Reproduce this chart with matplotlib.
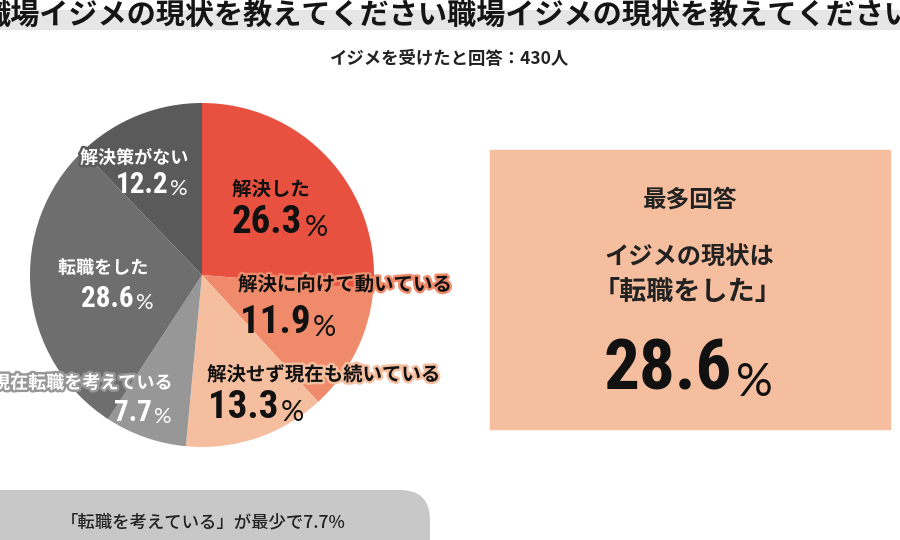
import os
import matplotlib
matplotlib.use("Agg")
import matplotlib.pyplot as plt
import matplotlib.patheffects as pe
from matplotlib import font_manager
from matplotlib.font_manager import FontProperties
from matplotlib.patches import Rectangle, FancyBboxPatch

# --------------------------------------------------------------------
# Data
# --------------------------------------------------------------------
TITLE = "職場イジメの現状を教えてください"
SUBTITLE = "イジメを受けたと回答：430人"
LABELS = ["解決した", "解決に向けて動いている", "解決せず現在も続いている",
          "現在転職を考えている", "転職をした", "解決策がない"]
VALUES = [26.3, 11.9, 13.3, 7.7, 28.6, 12.2]
COLORS = ["#E8513F", "#EF8B6B", "#F5BE9F", "#979797", "#6E6E6E", "#5A5A5A"]
TOP_IDX = 4          # 最多回答
LOW_IDX = 3          # 最少
BOX_HEAD = "最多回答"
BOX_LINE1 = "イジメの現状は"

JP = ["Noto Sans CJK JP", "DejaVu Sans"]
PCT = ["Lato", "DejaVu Sans"]
plt.rcParams["font.family"] = JP


# --------------------------------------------------------------------
# condensed bold font for the numbers (whatever is installed)
# --------------------------------------------------------------------
def find_condensed():
    prefs = ["NotoSans-ExtraCondensedBold", "NotoSans-CondensedBold",
             "RobotoCondensed-Bold", "LiberationSansNarrow-Bold",
             "OpenSans-CondensedBold", "OpenSansCondensed-Bold",
             "DejaVuSansCondensed-Bold"]
    fonts = font_manager.fontManager.ttflist
    for p in prefs:
        for f in fonts:
            if os.path.basename(f.fname).startswith(p):
                return FontProperties(fname=f.fname)
    for f in fonts:
        try:
            w = int(f.weight)
        except (TypeError, ValueError):
            w = 700 if "bold" in str(f.weight) else 400
        if f.stretch != "normal" and "condensed" in str(f.stretch) and w >= 600:
            return FontProperties(fname=f.fname)
    return FontProperties(family="DejaVu Sans", weight="bold")


NUMFP = find_condensed()


def numfp(size):
    fp = NUMFP.copy()
    fp.set_size(size)
    return fp


fig = plt.figure(figsize=(9, 5.4), dpi=100)

# pie axes: center (202, 275) px, radius 172 px
R = 172
pax = fig.add_axes([(202 - R) / 900, (540 - 275 - R) / 540, 2 * R / 900, 2 * R / 540])
pax.pie(VALUES, colors=COLORS, startangle=90, counterclock=False, radius=1,
        wedgeprops=dict(linewidth=0))
pax.set_xlim(-1, 1)
pax.set_ylim(-1, 1)
pax.axis("off")

# overlay axes in pixel coordinates
ax = fig.add_axes([0, 0, 1, 1], facecolor="none")
ax.set_xlim(0, 900)
ax.set_ylim(540, 0)
ax.axis("off")

# --- title band ---
ax.add_patch(Rectangle((0, 10), 900, 19, color="#E6E6E6", zorder=0))
ax.text(-19, 25, TITLE * 2, fontsize=21, fontweight="bold", color="#151515",
        ha="left", va="baseline")
ax.text(450, 59, SUBTITLE, fontsize=12.5, fontweight="bold", color="#222222",
        ha="center", va="center")


def pct_label(x, y, value, size, color, align="left"):
    num = f"{value:.1f}"
    if align == "left":
        t = ax.text(x, y, num, fontproperties=numfp(size), color=color,
                    ha="left", va="baseline")
        ax.annotate("%", xy=(1, 0), xycoords=t, xytext=(1.5, 0),
                    textcoords="offset points", family=PCT, fontweight="normal",
                    fontsize=size * 0.75, color=color, ha="left", va="bottom")
    else:
        p = ax.text(x, y, "%", family=PCT, fontweight="normal", fontsize=size * 0.75,
                    color=color, ha="right", va="baseline")
        ax.annotate(num, xy=(0, 0), xycoords=p, xytext=(-1.5, 0),
                    textcoords="offset points", fontproperties=numfp(size),
                    color=color, ha="right", va="bottom")


def name_label(x, y, text, color, stroke, size=13, ha="left"):
    ax.text(x, y, text, fontsize=size, fontweight="bold", color=color, ha=ha,
            va="center",
            path_effects=[pe.withStroke(linewidth=3.5, foreground=stroke)])


# (x name, y name, x num, y baseline num, num size, name size, text colour, align)
layout = [
    (232, 190, 232, 233, 28, 14, "#111111", "left"),
    (238, 285, 240, 333, 28, 14, "#111111", "left"),
    (207, 375, 208, 418, 28, 14, "#111111", "left"),
    (172, 383, 172, 423, 21, 13, "#FFFFFF", "right"),
    (58, 268, 81, 307, 21, 13, "#FFFFFF", "left"),
    (188, 158, 188, 195, 21, 13, "#FFFFFF", "right"),
]
for lab, val, col, (xn, yn, xv, yv, sz, nsz, tc, al) in zip(LABELS, VALUES, COLORS, layout):
    name_label(xn, yn, lab, tc, col, size=nsz, ha="left" if al == "left" else "right")
    pct_label(xv, yv, val, sz, tc, al)

# --- right box ---
ax.add_patch(Rectangle((490, 150), 400, 279, color="#F5BE9E", zorder=0))
ax.text(690, 200, BOX_HEAD, fontsize=17, fontweight="bold", color="#222222",
        ha="center", va="center")
ax.text(689, 258, BOX_LINE1, fontsize=17.5, fontweight="bold", color="#222222",
        ha="center", va="center")
ax.text(688, 292, f"「{LABELS[TOP_IDX]}」", fontsize=19.5, fontweight="bold",
        color="#222222", ha="center", va="center")
big = ax.text(732, 390, f"{VALUES[TOP_IDX]:.1f}", fontproperties=numfp(51),
              color="#111111", ha="right", va="baseline")
ax.annotate("%", xy=(1, 0), xycoords=big, xytext=(3, 0), textcoords="offset points",
            family=PCT, fontweight="normal", fontsize=33, color="#111111",
            ha="left", va="bottom")

# --- bottom pill ---
ax.add_patch(FancyBboxPatch((-60, 490), 490, 120,
                            boxstyle="round,pad=0,rounding_size=30",
                            facecolor="#C8C8C8", edgecolor="none", zorder=0))
ax.text(203, 522, f"「{LABELS[LOW_IDX][2:]}」が最少で{VALUES[LOW_IDX]}%",
        fontsize=12.5, fontweight="medium", color="#222222", ha="center", va="center")

fig.savefig("out.png", dpi=100)
